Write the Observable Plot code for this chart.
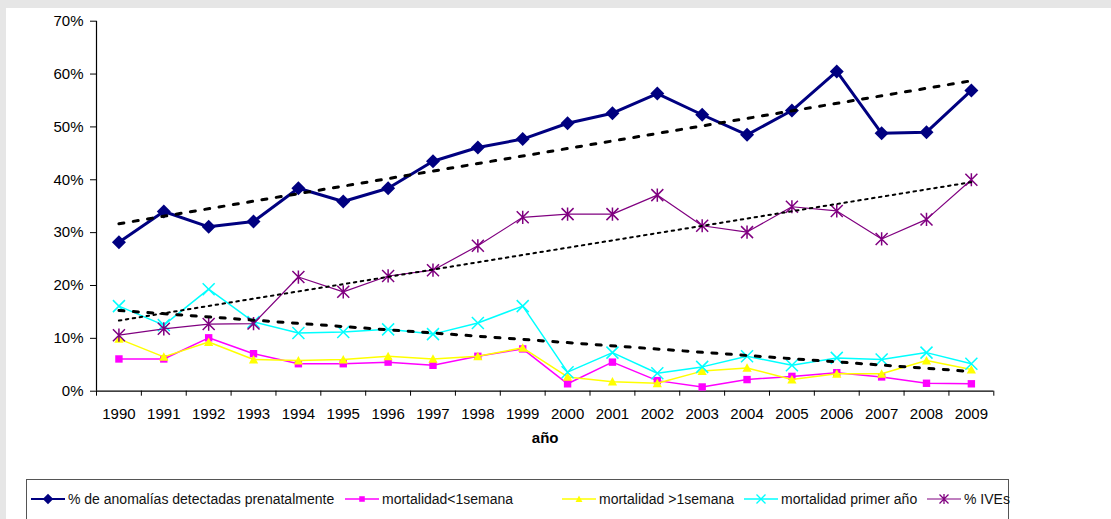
<!DOCTYPE html>
<html>
<head>
<meta charset="utf-8">
<script src="https://cdn.jsdelivr.net/npm/d3@7"></script>
<script src="https://cdn.jsdelivr.net/npm/@observablehq/plot@0.6"></script>
<style>
  html, body { margin: 0; padding: 0; }
  body { width: 1111px; height: 519px; background: #e6e6e6; position: relative; overflow: hidden;
         font-family: "Liberation Sans", Arial, sans-serif; }
  #panel { position: absolute; left: 6px; top: 8px; right: 0; bottom: 0; background: #fff; }
  #chart { position: absolute; left: 0; top: 0; }
  #chart svg text { font-size: 15px; font-family: "Liberation Sans", Arial, sans-serif; }
  #legend { position: absolute; left: 26px; top: 479px; width: 983px; height: 60px;
            border: 1.5px solid #555; background: #fff; box-sizing: border-box; }
  .item { position: absolute; top: 9px; height: 20px; display: flex; align-items: center;
          font-size: 14px; color: #111; white-space: nowrap; }
  .item svg { display: block; margin-right: 3px; }
</style>
</head>
<body>
<div id="panel"></div>
<div id="chart"></div>
<div id="legend"></div>
<script>
// ---- data ----
const years = [1990,1991,1992,1993,1994,1995,1996,1997,1998,1999,2000,2001,2002,2003,2004,2005,2006,2007,2008,2009];
const anomalias   = [28.2,34.0,31.1,32.1,38.4,35.9,38.4,43.5,46.1,47.7,50.7,52.6,56.3,52.3,48.5,53.1,60.5,48.8,49.0,56.9];
const mortMenos1  = [6.1,6.1,10.1,7.1,5.2,5.2,5.5,4.9,6.6,8.0,1.4,5.5,2.0,0.8,2.2,2.8,3.5,2.7,1.5,1.4];
const mortMas1    = [9.9,6.5,9.3,6.0,5.8,6.0,6.6,6.1,6.6,8.2,2.7,1.8,1.5,3.8,4.4,2.2,3.3,3.3,5.8,4.1];
const mortPrimer  = [16.1,12.5,19.3,13.1,11.0,11.2,11.7,10.8,12.9,16.1,3.6,7.3,3.4,4.6,6.6,4.9,6.3,6.0,7.3,5.2];
const ives        = [10.6,11.8,12.7,12.8,21.6,18.8,21.8,22.9,27.5,32.9,33.5,33.5,37.1,31.3,30.1,34.9,34.1,28.8,32.5,40.0];
const seriesNames = ["% de anomalías detectadas prenatalmente","mortalidad<1semana","mortalidad >1semana","mortalidad primer año","% IVEs"];
const yTicks = [0,10,20,30,40,50,60,70];
const xLabel = "año";

// ---- custom symbols ----
const sz = size => Math.sqrt(size / Math.PI);
const diamondSym = {draw(c, size){const s=sz(size); c.moveTo(0,-s); c.lineTo(s,0); c.lineTo(0,s); c.lineTo(-s,0); c.closePath();}};
const squareSym  = {draw(c, size){const s=sz(size); c.rect(-s,-s,2*s,2*s);}};
const triSym     = {draw(c, size){const s=sz(size); c.moveTo(0,-s); c.lineTo(s,s*0.85); c.lineTo(-s,s*0.85); c.closePath();}};
const timesSym   = {draw(c, size){const s=sz(size); c.moveTo(-s,-s); c.lineTo(s,s); c.moveTo(s,-s); c.lineTo(-s,s);}};
const starSym    = {draw(c, size){const s=sz(size); c.moveTo(-s,-s); c.lineTo(s,s); c.moveTo(s,-s); c.lineTo(-s,s); c.moveTo(0,-s*1.1); c.lineTo(0,s*1.1);}};

const styles = [
  {values: anomalias,  color: "#000080", width: 3,   symbol: diamondSym, r: 7,   filled: true},
  {values: mortMenos1, color: "#ff00ff", width: 1.5, symbol: squareSym,  r: 3.7, filled: true},
  {values: mortMas1,   color: "#ffff00", width: 1.5, symbol: triSym,     r: 4.6, filled: true},
  {values: mortPrimer, color: "#00ffff", width: 1.5, symbol: timesSym,   r: 6,   filled: false},
  {values: ives,       color: "#800080", width: 1.2, symbol: starSym,    r: 6,   filled: false}
];
const tables = styles.map(s => years.map((year, i) => ({year, value: s.values[i]})));

const boundaries = years.map(y => y - 0.5).concat([years[years.length-1] + 0.5]);

const marks = [
  Plot.ruleY([0], {stroke: "black", strokeWidth: 1.2}),
  Plot.ruleX([boundaries[0]], {stroke: "black", strokeWidth: 1.2}),
  Plot.axisY({ticks: yTicks, tickSize: 6, tickPadding: 7, tickFormat: d => d + "%", label: null, fontSize: 15, stroke: "black"}),
  Plot.axisX({ticks: boundaries, tickSize: 5, tickFormat: () => "", label: null, stroke: "black"}),
  Plot.axisX({ticks: years, tickSize: 0, tickPadding: 17.6, tickFormat: d => String(d), label: null, fontSize: 15}),
  Plot.text([xLabel], {frameAnchor: "bottom", dy: 52, fontWeight: "bold", fontSize: 15, fill: "black"})
];
styles.forEach((s, i) => {
  marks.push(Plot.line(tables[i], {x: "year", y: "value", stroke: s.color, strokeWidth: s.width}));
  marks.push(Plot.dot(tables[i], {x: "year", y: "value", symbol: s.symbol, r: s.r,
    fill: s.filled ? s.color : "none", stroke: s.filled ? "none" : s.color, strokeWidth: s.filled ? 0 : 1.5}));
});
// trendlines (linear regression)
marks.push(Plot.linearRegressionY(tables[0], {x: "year", y: "value", stroke: "black", strokeWidth: 3, strokeDasharray: "5,9.5", ci: 0}));
marks.push(Plot.linearRegressionY(tables[3], {x: "year", y: "value", stroke: "black", strokeWidth: 3, strokeDasharray: "5,9.5", ci: 0}));
marks.push(Plot.linearRegressionY(tables[4], {x: "year", y: "value", stroke: "black", strokeWidth: 2, strokeDasharray: "2.5,4.5", ci: 0}));

const chart = Plot.plot({
  width: 1111, height: 460,
  marginLeft: 96, marginRight: 117.7, marginTop: 20.7, marginBottom: 69.3,
  style: {background: "transparent", fontFamily: "'Liberation Sans', Arial, sans-serif", fontSize: "15px", color: "black", overflow: "visible"},
  x: {type: "linear", domain: [boundaries[0], boundaries[boundaries.length-1]]},
  y: {domain: [0, 70]},
  marks
});
document.getElementById("chart").appendChild(chart);

// ---- legend ----
const legendX = [4, 318, 535, 717, 900];
const legend = document.getElementById("legend");
styles.forEach((s, i) => {
  const item = document.createElement("div");
  item.className = "item";
  item.style.left = legendX[i] + "px";
  const svg = d3.create("svg").attr("width", 34).attr("height", 16);
  svg.append("line").attr("x1", 0).attr("x2", 34).attr("y1", 8).attr("y2", 8)
    .attr("stroke", s.color).attr("stroke-width", Math.min(s.width, 2));
  const lr = s.r * 0.75;
  svg.append("path").attr("transform", "translate(17,8)")
    .attr("d", d3.symbol(s.symbol, lr * lr * Math.PI)())
    .attr("fill", s.filled ? s.color : "none")
    .attr("stroke", s.filled ? "none" : s.color).attr("stroke-width", 1.3);
  item.appendChild(svg.node());
  const span = document.createElement("span");
  span.textContent = seriesNames[i];
  item.appendChild(span);
  legend.appendChild(item);
});
</script>
</body>
</html>
